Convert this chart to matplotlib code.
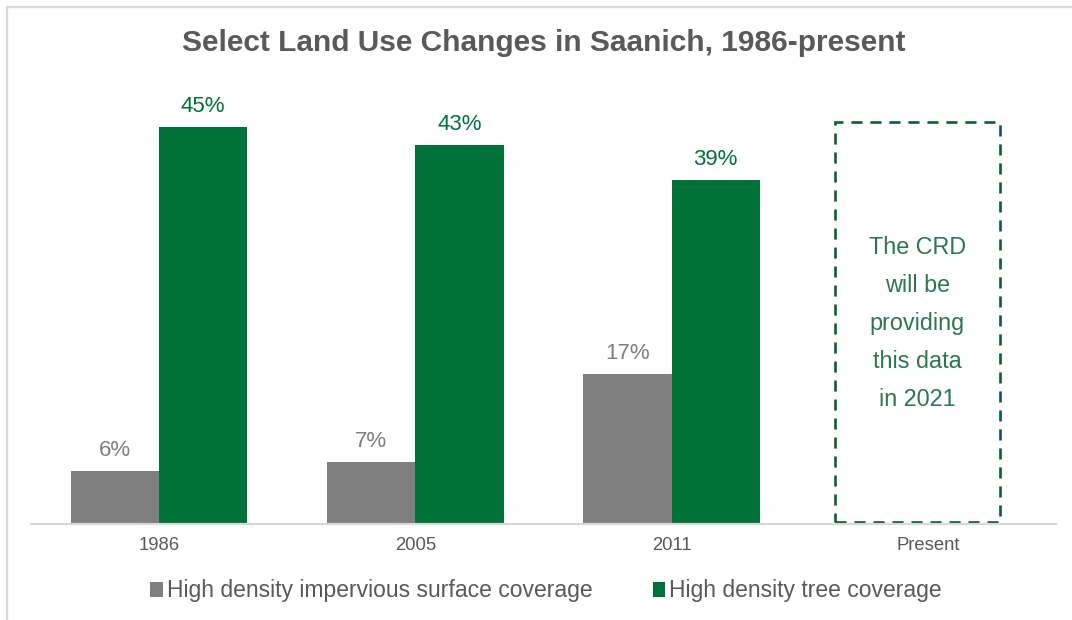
import matplotlib.pyplot as plt
from matplotlib.patches import Patch, Rectangle
from matplotlib.lines import Line2D
import numpy as np

plt.rcParams['font.family'] = ['Liberation Sans', 'DejaVu Sans']

# categorias e valores (%)
YEARS = ['1986', '2005', '2011', 'Present']
IMPERVIOUS = [6, 7, 17]
TREE = [45, 43, 39]
BOX_NOTE = 'The CRD\nwill be\nproviding\nthis data\nin 2021'

GRAY = '#808080'
GREEN = '#007139'
DARK_GREEN = '#0b5e32'
TEXT = '#595959'

W, H = 1072, 620
fig = plt.figure(figsize=(W / 100, H / 100), dpi=100)

# eixo: linha base em y=524px, de x=31 ate 1056
ax = fig.add_axes([31 / W, (H - 524) / H, (1056 - 31) / W, (524 - 90) / H])
ax.set_xlim(-0.5, 3.5)
ax.set_ylim(0, 434 / 8.82)

width = 0.344
x = np.arange(len(IMPERVIOUS))

b1 = ax.bar(x - width / 2, IMPERVIOUS, width, color=GRAY, linewidth=0)
b2 = ax.bar(x + width / 2, TREE, width, color=GREEN, linewidth=0)

for rect, v in zip(b1, IMPERVIOUS):
    ax.annotate(f'{v}%', (rect.get_x() + rect.get_width() / 2, v),
                xytext=(0, 7.5), textcoords='offset points', ha='center', va='bottom',
                fontsize=16, color='#7f7f7f')
for rect, v in zip(b2, TREE):
    ax.annotate(f'{v}%', (rect.get_x() + rect.get_width() / 2, v),
                xytext=(0, 7), textcoords='offset points', ha='center', va='bottom',
                fontsize=16, color=GREEN)

# caixa tracejada para "Present"
box = Rectangle((2.637, 0.2), 0.644, 45.4, fill=False, edgecolor=DARK_GREEN,
                linewidth=1.9, linestyle=(0, (4.2, 3.0)))
ax.add_patch(box)
ax.text(2.959, 22.75, BOX_NOTE, ha='center', va='center', fontsize=16.8,
        color='#2a7750', linespacing=1.84)

for s in ['top', 'right', 'left']:
    ax.spines[s].set_visible(False)
ax.spines['bottom'].set_color('#d9d9d9')
ax.spines['bottom'].set_linewidth(1.6)
ax.set_yticks([])
ax.set_xticks(np.arange(len(YEARS)))
ax.set_xticklabels(YEARS, fontsize=13.3, color=TEXT)
ax.tick_params(axis='x', length=0, pad=9)

fig.text(544 / W, 1 - 43 / H, 'Select Land Use Changes in Saanich, 1986-present',
         ha='center', va='center', fontsize=21.5, fontweight='bold', color=TEXT)

handles = [Patch(facecolor=GRAY, edgecolor='none'), Patch(facecolor=GREEN, edgecolor='none')]
leg = fig.legend(handles, ['High density impervious surface coverage', 'High density tree coverage'],
                 loc='center', bbox_to_anchor=(546 / W, 1 - 591 / H), ncol=2, frameon=False,
                 fontsize=16.5, handlelength=0.55, handleheight=0.6, handletextpad=0.15,
                 columnspacing=2.65, labelcolor=TEXT)

# moldura (esquerda e topo)
fig.add_artist(Line2D([7 / W, 7 / W], [0, 1 - 7 / H], color='#d9d9d9', linewidth=1.6))
fig.add_artist(Line2D([7 / W, 1], [1 - 7 / H, 1 - 7 / H], color='#d9d9d9', linewidth=1.6))

fig.savefig('out.png', dpi=100)
